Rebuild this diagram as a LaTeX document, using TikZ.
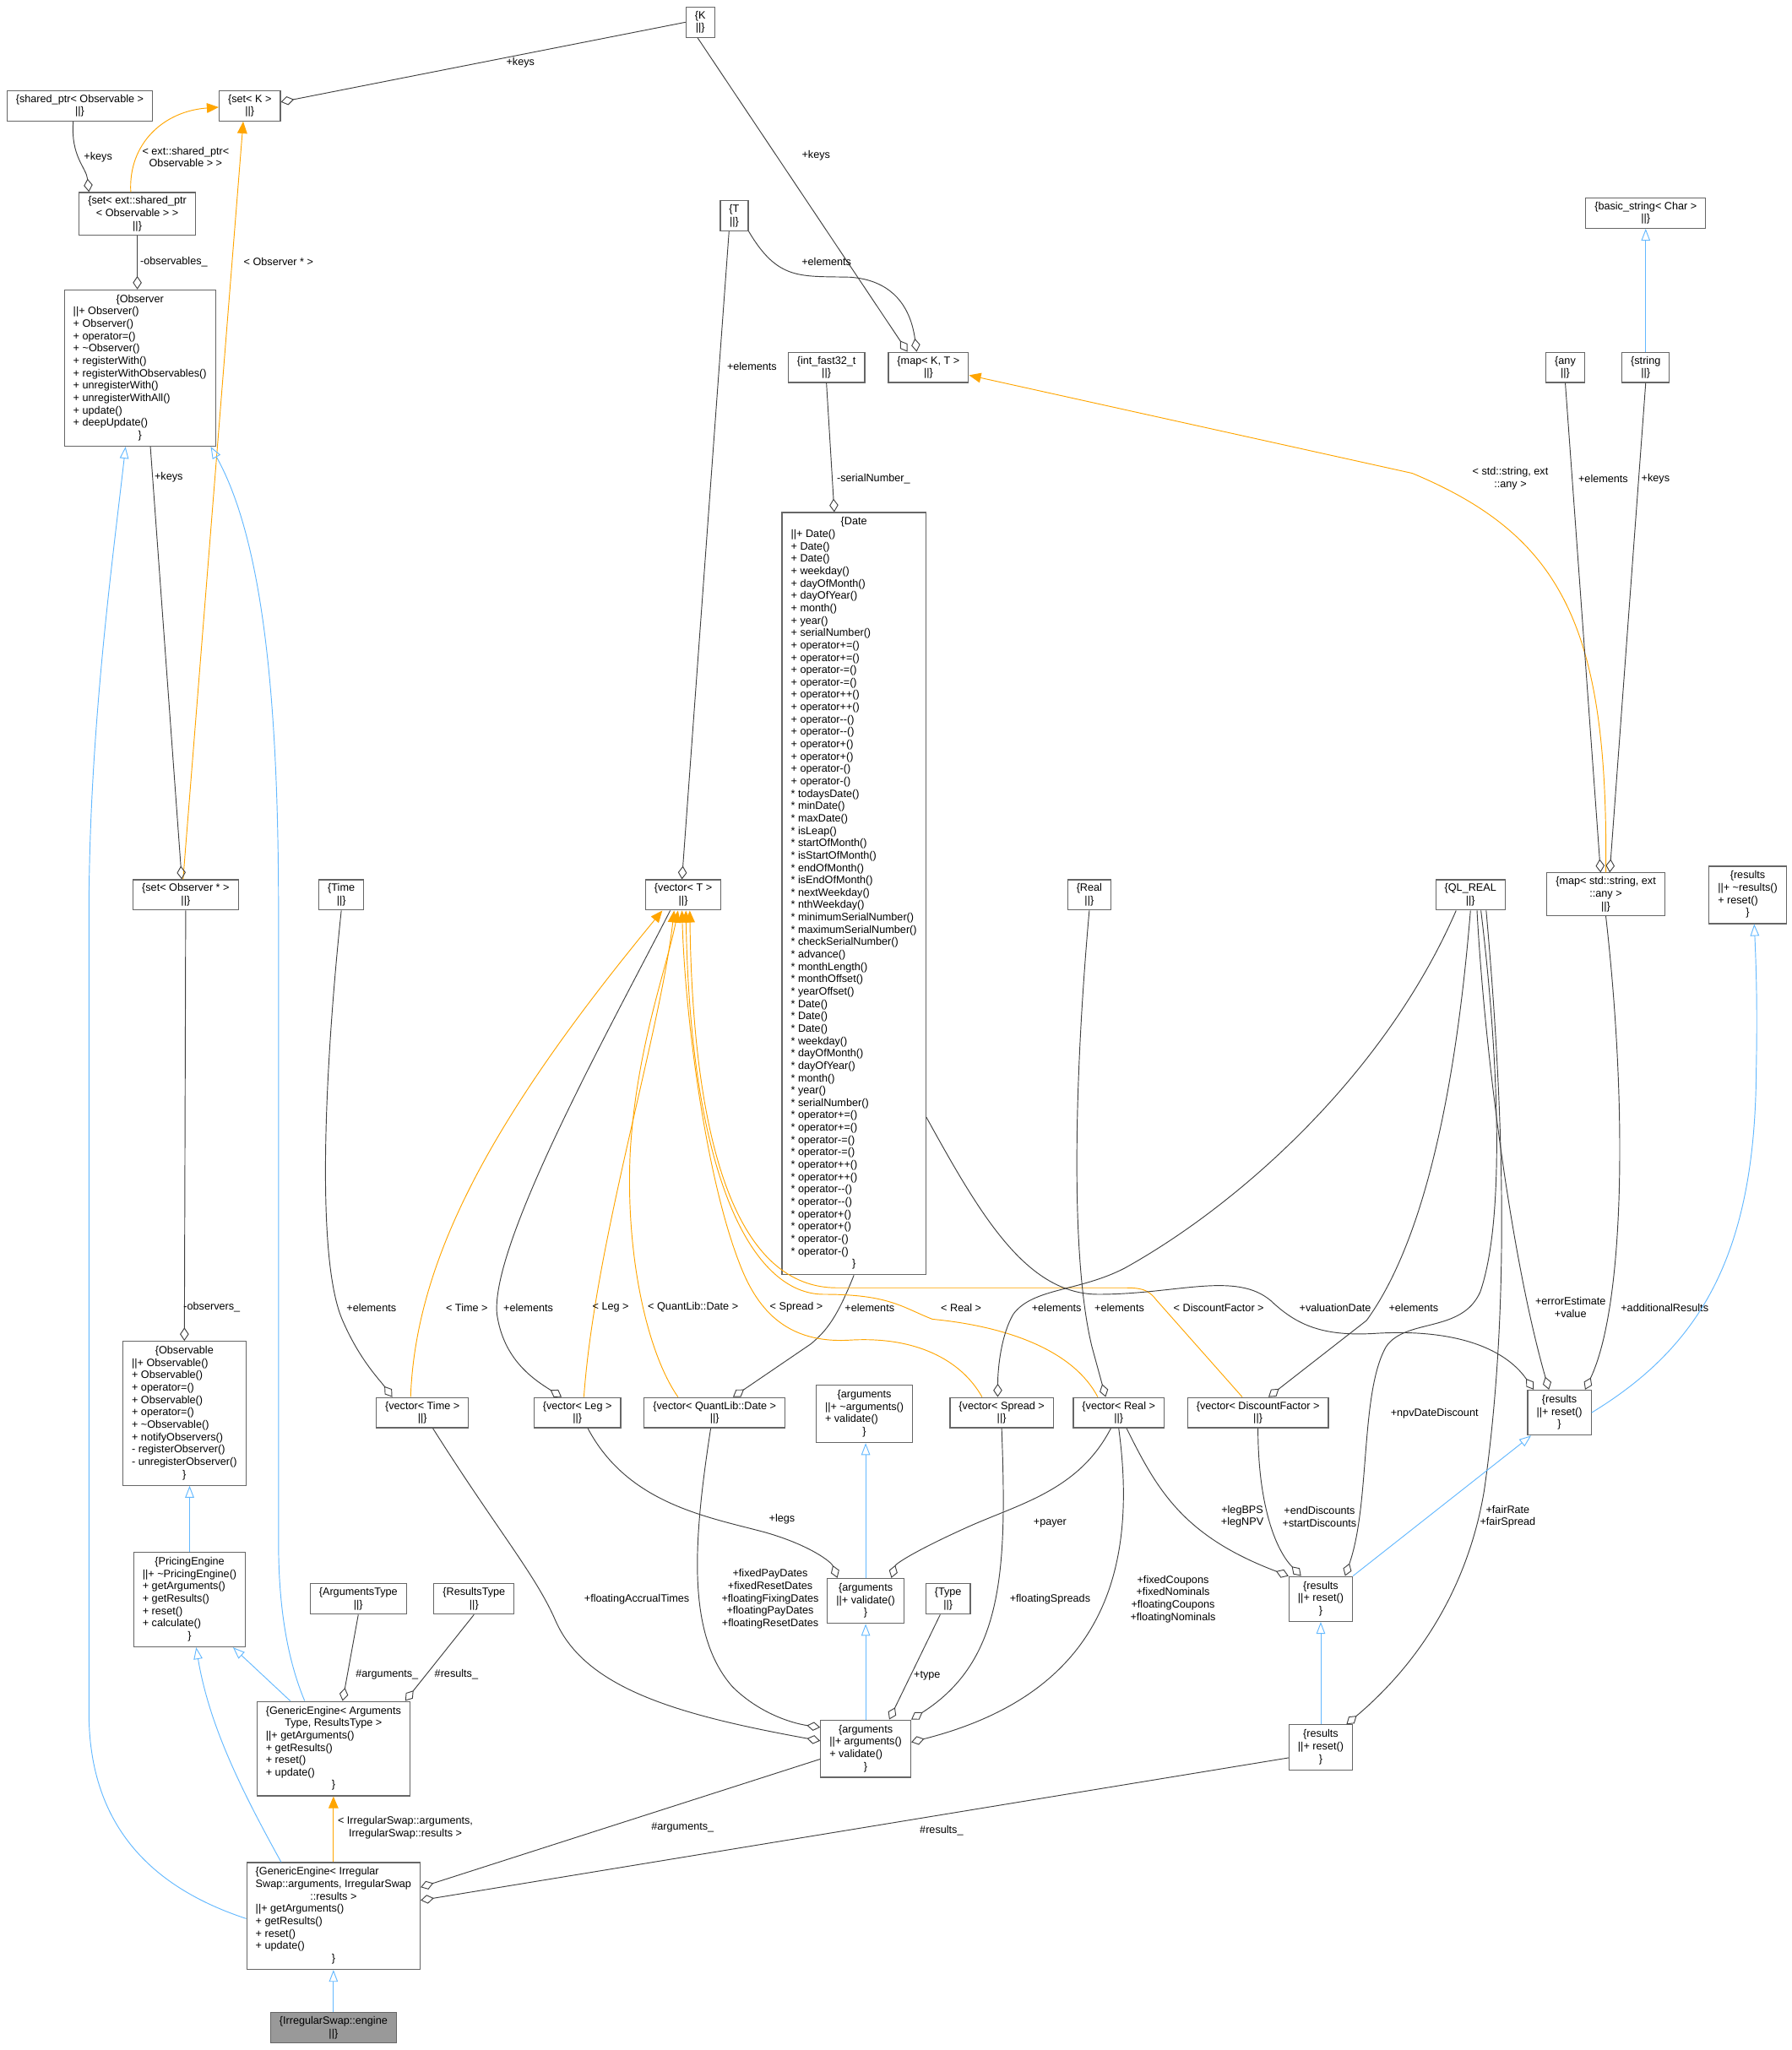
\documentclass[tikz,border=0pt]{standalone}
\usepackage{fontspec}
\setmainfont{Liberation Sans}
\usetikzlibrary{arrows.meta, calc}
\definecolor{boxgray}{HTML}{666666}
\definecolor{edgegray}{HTML}{404040}
\definecolor{inhblue}{HTML}{63B8FF}
\definecolor{tmplorange}{HTML}{FFA500}
\definecolor{engfill}{HTML}{999999}
\newcommand{\ctr}[1]{\multicolumn{1}{@{}c@{}}{#1}}
\begin{document}
\begin{tikzpicture}[x=0.04645cm, y=-0.04645cm,
    cls/.style={draw=boxgray, fill=white, line width=1pt, inner xsep=9pt, inner ysep=4pt,
      font=\fontsize{10.8}{12.5}\selectfont, align=center},
    lbl/.style={font=\fontsize{10.8}{12.5}\selectfont, align=center, inner sep=0pt},
    agg/.style={draw=edgegray, line width=0.8pt, -{Diamond[open, length=13.5pt, width=9pt]}},
    inh/.style={draw=inhblue, line width=0.8pt, -{Triangle[open, length=12pt, width=9pt]}},
    tmpl/.style={draw=tmplorange, line width=0.8pt, -{Triangle[length=12pt, width=10pt]}}]
\useasboundingbox (0,0) rectangle (1370,1568);

% classes
\node[cls] (K) at (535.5,17) {\{K\\||\}};
\node[cls] (sharedObs) at (61,81) {\{shared\_ptr< Observable >\\||\}};
\node[cls] (setK) at (191,81) {\{set< K >\\||\}};
\node[cls] (setExtPtr) at (105,163.5) {\{set< ext::shared\_ptr\\< Observable > >\\||\}};
\node[cls] (T) at (561.5,165) {\{T\\||\}};
\node[cls] (basicStr) at (1258.5,163) {\{basic\_string< Char >\\||\}};
\node[cls] (Observer) at (107,281.5) {\begin{tabular}{@{}l@{}}\ctr{\{Observer}\\
  ||+ Observer()\\ + Observer()\\ + operator=()\\ + \textasciitilde Observer()\\
  + registerWith()\\ + registerWithObservables()\\ + unregisterWith()\\
  + unregisterWithAll()\\ + update()\\ + deepUpdate()\\ \ctr{\}}\end{tabular}};
\node[cls] (intFast) at (632,281) {\{int\_fast32\_t\\||\}};
\node[cls] (mapKT) at (710,281) {\{map< K, T >\\||\}};
\node[cls] (any) at (1197,281) {\{any\\||\}};
\node[cls] (string) at (1258.5,281) {\{string\\||\}};
\node[cls] (Date) at (653,683.5) {\begin{tabular}{@{}l@{}}\ctr{\{Date}\\
  ||+ Date()\\ + Date()\\ + Date()\\ + weekday()\\ + dayOfMonth()\\ + dayOfYear()\\
  + month()\\ + year()\\ + serialNumber()\\ + operator+=()\\ + operator+=()\\
  + operator-=()\\ + operator-=()\\ + operator++()\\ + operator++()\\
  + operator{-}{-}()\\ + operator{-}{-}()\\ + operator+()\\ + operator+()\\
  + operator-()\\ + operator-()\\
  {*} todaysDate()\\ {*} minDate()\\ {*} maxDate()\\ {*} isLeap()\\ {*} startOfMonth()\\
  {*} isStartOfMonth()\\ {*} endOfMonth()\\ {*} isEndOfMonth()\\ {*} nextWeekday()\\
  {*} nthWeekday()\\ {*} minimumSerialNumber()\\ {*} maximumSerialNumber()\\
  {*} checkSerialNumber()\\ {*} advance()\\ {*} monthLength()\\ {*} monthOffset()\\
  {*} yearOffset()\\ {*} Date()\\ {*} Date()\\ {*} Date()\\ {*} weekday()\\ {*} dayOfMonth()\\
  {*} dayOfYear()\\ {*} month()\\ {*} year()\\ {*} serialNumber()\\ {*} operator+=()\\
  {*} operator+=()\\ {*} operator-=()\\ {*} operator-=()\\ {*} operator++()\\
  {*} operator++()\\ {*} operator{-}{-}()\\ {*} operator{-}{-}()\\ {*} operator+()\\
  {*} operator+()\\ {*} operator-()\\ {*} operator-()\\ \ctr{\}}\end{tabular}};
\node[cls] (setObsPtr) at (142,684.5) {\{set< Observer * >\\||\}};
\node[cls] (Time) at (261,684.5) {\{Time\\||\}};
\node[cls] (vecT) at (522.5,684.5) {\{vector< T >\\||\}};
\node[cls] (Real) at (833,684.5) {\{Real\\||\}};
\node[cls] (QLREAL) at (1124.5,684.5) {\{QL\_REAL\\||\}};
\node[cls] (mapStrAny) at (1228,684) {\{map< std::string, ext\\::any >\\||\}};
\node[cls] (resultsBase) at (1336.5,684.5) {\begin{tabular}{@{}l@{}}\ctr{\{results}\\
  ||+ \textasciitilde results()\\ + reset()\\ \ctr{\}}\end{tabular}};
\node[cls] (Observable) at (141,1081) {\begin{tabular}{@{}l@{}}\ctr{\{Observable}\\
  ||+ Observable()\\ + Observable()\\ + operator=()\\ + Observable()\\ + operator=()\\
  + \textasciitilde Observable()\\ + notifyObservers()\\ - registerObserver()\\
  - unregisterObserver()\\ \ctr{\}}\end{tabular}};
\node[cls] (vecTime) at (323,1080.5) {\{vector< Time >\\||\}};
\node[cls] (vecLeg) at (441.5,1080.5) {\{vector< Leg >\\||\}};
\node[cls] (vecQLDate) at (546.5,1080.5) {\{vector< QuantLib::Date >\\||\}};
\node[cls] (argsBase) at (661,1081.5) {\begin{tabular}{@{}l@{}}\ctr{\{arguments}\\
  ||+ \textasciitilde arguments()\\ + validate()\\ \ctr{\}}\end{tabular}};
\node[cls] (vecSpread) at (766,1080.5) {\{vector< Spread >\\||\}};
\node[cls] (vecReal) at (855.5,1080.5) {\{vector< Real >\\||\}};
\node[cls] (vecDF) at (962,1080.5) {\{vector< DiscountFactor >\\||\}};
\node[cls] (resultsR) at (1192.5,1080.5) {\begin{tabular}{@{}l@{}}\ctr{\{results}\\
  ||+ reset()\\ \ctr{\}}\end{tabular}};
\node[cls] (PricingEngine) at (145,1223.5) {\begin{tabular}{@{}l@{}}\ctr{\{PricingEngine}\\
  ||+ \textasciitilde PricingEngine()\\ + getArguments()\\ + getResults()\\ + reset()\\
  + calculate()\\ \ctr{\}}\end{tabular}};
\node[cls] (ArgsType) at (274,1223) {\{ArgumentsType\\||\}};
\node[cls] (ResType) at (362.5,1223) {\{ResultsType\\||\}};
\node[cls] (argsVal) at (662,1224.5) {\begin{tabular}{@{}l@{}}\ctr{\{arguments}\\
  ||+ validate()\\ \ctr{\}}\end{tabular}};
\node[cls] (Type) at (725,1223) {\{Type\\||\}};
\node[cls] (resultsMid) at (1010,1223) {\begin{tabular}{@{}l@{}}\ctr{\{results}\\
  ||+ reset()\\ \ctr{\}}\end{tabular}};
\node[cls] (GenEngine) at (255,1337.5) {\begin{tabular}{@{}l@{}}\ctr{\{GenericEngine< Arguments}\\
  \ctr{Type, ResultsType >}\\ ||+ getArguments()\\ + getResults()\\ + reset()\\
  + update()\\ \ctr{\}}\end{tabular}};
\node[cls] (argsSwap) at (662,1337.5) {\begin{tabular}{@{}l@{}}\ctr{\{arguments}\\
  ||+ arguments()\\ + validate()\\ \ctr{\}}\end{tabular}};
\node[cls] (resultsSwap) at (1010,1336.5) {\begin{tabular}{@{}l@{}}\ctr{\{results}\\
  ||+ reset()\\ \ctr{\}}\end{tabular}};
\node[cls] (GenIrr) at (255,1465.5) {\begin{tabular}{@{}l@{}}\{GenericEngine< Irregular\\
  \ctr{Swap::arguments, IrregularSwap}\\ \ctr{::results >}\\ ||+ getArguments()\\
  + getResults()\\ + reset()\\ + update()\\ \ctr{\}}\end{tabular}};
\node[cls, fill=engfill] (engine) at (255,1551) {\{IrregularSwap::engine\\||\}};

% top part
\draw[agg] (K.west) -- ($(setK.east)+(0,-3)$) node[lbl] (l1) at (398,48) {+keys};
\draw[agg] ($(K.south)+(-2,0)$) -- ($(mapKT.north)+(-16,0)$) node[lbl] (l2) at (624,119) {+keys};
\draw[agg] ($(sharedObs.south)+(-5,0)$) .. controls (54,120) and (66,128) .. ($(setExtPtr.north)+(-37,0)$)
  node[lbl] (l3) at (75,120) {+keys};
\draw[tmpl] ($(setExtPtr.north)+(-5,0)$) .. controls (98,110) and (125,85) .. ($(setK.west)+(0,1)$)
  node[lbl] (l4) at (142,120) {< ext::shared\_ptr<\\Observable > >};
\draw[tmpl] ($(setObsPtr.north)+(-2,0)$) -- ($(setK.south)+(-5,0)$) node[lbl] (l5) at (213,200) {< Observer * >};
\draw[agg] (setExtPtr.south) -- ($(Observer.north)+(-2,0)$) node[lbl] (l6) at (133,200) {-observables\_};
\draw[agg] ($(Observer.south)+(8,0)$) -- ($(setObsPtr.north)+(-3,0)$) node[lbl] (l7) at (129,365) {+keys};
\draw[agg] ($(T.south)+(-4,0)$) -- ($(vecT.north)+(-1,0)$) node[lbl] (l8) at (575,280) {+elements};
\draw[agg] (T.south east) .. controls (595,215) and (612,211) .. (650,212) .. controls (680,214) and (696,232) .. ($(mapKT.north)+(-9,0)$)
  node[lbl] (l9) at (632,200) {+elements};
\draw[inh] (string.north) -- (basicStr.south);
\draw[agg] (intFast.south) -- ($(Date.north)+(-15,0)$) node[lbl] (l10) at (668,366) {-serialNumber\_};
\draw[tmpl] (mapStrAny.north) .. controls (1230,480) and (1195,410) .. (1080,362) -- ($(mapKT.east)+(0,6)$)
  node[lbl] (l11) at (1155,366) {< std::string, ext\\::any >};
\draw[agg] (any.south) -- ($(mapStrAny.north)+(-4,0)$) node[lbl] (l12) at (1226,366) {+elements};
\draw[agg] (string.south) -- ($(mapStrAny.north)+(3,0)$) node[lbl] (l13) at (1266,366) {+keys};

% engines
\draw[inh] ($(GenIrr.west)+(0,2)$) .. controls (120,1445) and (68,1400) .. (68,1310) -- (68,700)
  .. controls (68,560) and (86,430) .. ($(Observer.south)+(-11,0)$);
\draw[inh] ($(GenEngine.north)+(-22,0)$) .. controls (220,1270) and (213,1230) .. (213,1180) -- (213,700)
  .. controls (213,560) and (205,420) .. ($(Observer.south east)+(-4,0)$);
\draw[agg] (setObsPtr.south) -- (Observable.north) node[lbl] (l14) at (162,1000) {-observers\_};
\draw[inh] (PricingEngine.north) -- (PricingEngine.north |- Observable.south);
\draw[inh] ($(GenEngine.north)+(-33,0)$) -- ($(PricingEngine.south east)+(-10,0)$);
\draw[inh] ($(GenIrr.north)+(-40,0)$) .. controls (185,1370) and (160,1320) .. ($(PricingEngine.south)+(5,0)$);
\draw[tmpl] (GenIrr.north) -- (GenEngine.south)
  node[lbl] (l15) at (310,1398) {< IrregularSwap::arguments,\\IrregularSwap::results >};
\draw[agg] (ArgsType.south) -- ($(GenEngine.north)+(7,0)$) node[lbl] (l16) at (296,1281) {\#arguments\_};
\draw[agg] (ResType.south) -- ($(GenEngine.north east)+(-4,0)$) node[lbl] (l17) at (349,1281) {\#results\_};

% vectors
\draw[agg] (Time.south) .. controls (250,800) and (240,960) .. (262,1010) .. controls (275,1040) and (290,1055) .. ($(vecTime.north)+(-23,0)$)
  node[lbl] (l18) at (284,1000) {+elements};
\draw[tmpl] ($(vecTime.north)+(-9,0)$) .. controls (318,960) and (380,850) .. ($(vecT.south)+(-16,0)$)
  node[lbl] (l19) at (357,1000) {< Time >};
\draw[agg] ($(vecT.south)+(-10,0)$) .. controls (470,780) and (375,950) .. (380,1005) .. controls (385,1040) and (408,1055) .. ($(vecLeg.north)+(-12,0)$)
  node[lbl] (l20) at (404,1000) {+elements};
\draw[tmpl] ($(vecLeg.north)+(5,0)$) .. controls (455,950) and (505,790) .. ($(vecT.south)+(-7,0)$)
  node[lbl] (l21) at (467,1000) {< Leg >};
\draw[tmpl] ($(vecQLDate.north)+(-28,0)$) .. controls (495,1035) and (478,960) .. (482,880) .. controls (487,800) and (510,740) .. ($(vecT.south)+(-4,0)$)
  node[lbl] (l22) at (530,1000) {< QuantLib::Date >};
\draw[agg] (Date.south) .. controls (640,1008) and (632,1018) .. (620,1028) -- ($(vecQLDate.north)+(14,0)$)
  node[lbl] (l23) at (665,1000) {+elements};
\draw[tmpl] ($(vecSpread.north)+(-15,0)$) .. controls (735,1040) and (700,1022) .. (650,1025) .. controls (600,1028) and (578,1000) .. (565,965)
  .. controls (540,900) and (524,780) .. ($(vecT.south)+(-1,0)$) node[lbl] (l24) at (609,1000) {< Spread >};
\draw[tmpl] ($(vecReal.north)+(-16,0)$) .. controls (822,1035) and (775,1015) .. (713,1009) .. controls (690,1000) and (680,990) .. (630,990)
  .. controls (575,990) and (528,900) .. ($(vecT.south)+(2,0)$) node[lbl] (l25) at (735,1000) {< Real >};
\draw[tmpl] ($(vecDF.north)+(-12,0)$) -- (884,994) .. controls (878,986) and (872,985) .. (860,985) -- (640,985)
  .. controls (565,985) and (530,880) .. ($(vecT.south)+(5,0)$) node[lbl] (l26) at (932,1000) {< DiscountFactor >};
\draw[agg] ($(QLREAL.south)+(-11,0)$) .. controls (1060,820) and (950,920) .. (860,970) .. controls (825,988) and (790,985) .. (775,1005)
  .. controls (766,1020) and (763,1045) .. ($(vecSpread.north)+(-3,0)$) node[lbl] (l27) at (808,1000) {+elements};
\draw[agg] (Real.south) .. controls (822,820) and (818,960) .. (835,1030) -- ($(vecReal.north)+(-10,0)$)
  node[lbl] (l28) at (856,1000) {+elements};
\draw[agg] (QLREAL.south) .. controls (1112,850) and (1085,955) .. (1045,1010) -- ($(vecDF.north)+(8,0)$)
  node[lbl] (l29) at (1081,1000) {+elements};

% results
\draw[agg] ($(Date.south east)+(0,-121)$) .. controls (750,930) and (785,990) .. (840,990) .. controls (900,990) and (945,972) .. (972,995)
  .. controls (992,1014) and (1012,1022) .. (1050,1020) .. controls (1110,1016) and (1150,1030) .. ($(resultsR.north west)+(5,0)$)
  node[lbl] (l30) at (1021,1000) {+valuationDate};
\draw[agg] ($(QLREAL.south)+(5,0)$) .. controls (1135,800) and (1155,960) .. ($(resultsR.north)+(-8,0)$)
  node[lbl] (l31) at (1201,1000) {+errorEstimate\\+value};
\draw[agg] (mapStrAny.south) .. controls (1245,850) and (1242,1000) .. ($(resultsR.north east)+(-5,0)$)
  node[lbl] (l32) at (1273,1000) {+additionalResults};
\draw[inh] (resultsR.east) .. controls (1300,1030) and (1342,960) .. (1343,820) .. controls (1344,770) and (1343,740) .. ($(resultsBase.south)+(5,0)$);
\draw[agg] ($(QLREAL.south)+(8,0)$) .. controls (1145,800) and (1152,930) .. (1132,988) .. controls (1118,1020) and (1075,1008) .. (1060,1030)
  .. controls (1040,1065) and (1048,1150) .. ($(resultsMid.north east)+(-6,0)$) node[lbl] (l33) at (1097,1081) {+npvDateDiscount};
\draw[agg] ($(QLREAL.south)+(12,0)$) .. controls (1150,850) and (1155,1000) .. (1135,1140) .. controls (1120,1230) and (1070,1285) .. ($(resultsSwap.north east)+(-5,0)$)
  node[lbl] (l34) at (1153,1160) {+fairRate\\+fairSpread};
\draw[agg] ($(vecReal.south)+(6,0)$) .. controls (885,1140) and (905,1175) .. (resultsMid.north west)
  node[lbl] (l35) at (950,1160) {+legBPS\\+legNPV};
\draw[agg] (vecDF.south) .. controls (962,1150) and (975,1185) .. ($(resultsMid.north)+(-15,0)$)
  node[lbl] (l36) at (1009,1160) {+endDiscounts\\+startDiscounts};
\draw[inh] (resultsMid.north east) -- ($(resultsR.south west)+(3,0)$);
\draw[inh] (resultsSwap.north) -- (resultsMid.south);

% arguments
\draw[agg] ($(vecLeg.south)+(8,0)$) .. controls (480,1150) and (540,1160) .. (585,1172) .. controls (620,1182) and (636,1195) .. ($(argsVal.north west)+(8,0)$)
  node[lbl] (l37) at (598,1162) {+legs};
\draw[agg] ($(vecReal.south)+(-6,0)$) .. controls (825,1140) and (780,1150) .. (740,1168) .. controls (700,1186) and (685,1196) .. ($(argsVal.north east)+(-10,0)$)
  node[lbl] (l38) at (803,1165) {+payer};
\draw[inh] (argsVal.north) -- (argsVal.north |- argsBase.south);
\draw[inh] (argsSwap.north) -- (argsVal.south);
\draw[agg] ($(Type.south)+(-6,0)$) -- ($(argsSwap.north)+(18,0)$) node[lbl] (l39) at (709,1282) {+type};
\draw[agg] ($(vecTime.south)+(8,0)$) .. controls (380,1170) and (410,1205) .. (425,1240) .. controls (448,1292) and (520,1312) .. ($(argsSwap.west)+(0,-6)$)
  node[lbl] (l40) at (487,1223) {+floatingAccrualTimes};
\draw[agg] ($(vecQLDate.south)+(-3,0)$) .. controls (530,1180) and (525,1250) .. (560,1290) .. controls (580,1310) and (605,1318) .. ($(argsSwap.north west)+(0,6)$)
  node[lbl] (l41) at (589,1223) {+fixedPayDates\\+fixedResetDates\\+floatingFixingDates\\+floatingPayDates\\+floatingResetDates};
\draw[agg] (vecSpread.south) .. controls (770,1200) and (768,1270) .. (argsSwap.north east)
  node[lbl] (l42) at (803,1223) {+floatingSpreads};
\draw[agg] (vecReal.south) .. controls (870,1200) and (845,1295) .. ($(argsSwap.east)+(0,-5)$)
  node[lbl] (l43) at (897,1223) {+fixedCoupons\\+fixedNominals\\+floatingCoupons\\+floatingNominals};
\draw[agg] ($(argsSwap.west)+(0,8)$) -- ($(GenIrr.east)+(0,-22)$) node[lbl] (l44) at (522,1398) {\#arguments\_};
\draw[agg] ($(resultsSwap.west)+(0,8)$) -- ($(GenIrr.east)+(0,-12)$) node[lbl] (l45) at (720,1400) {\#results\_};
\draw[inh] (engine.north) -- (GenIrr.south);
\end{tikzpicture}
\end{document}
